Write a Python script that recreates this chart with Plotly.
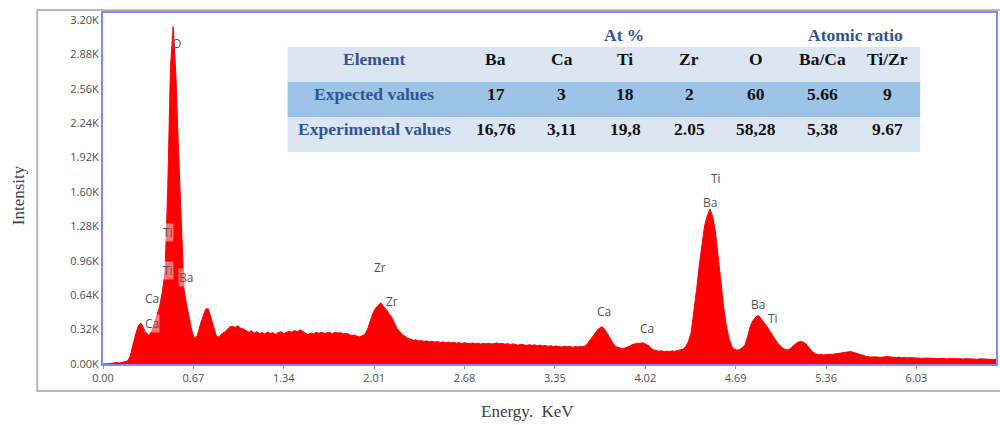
import numpy as np
import plotly.graph_objects as go

# ---- EDS spectrum: detector channels (keV) and counts per channel ----
channel_start = 0.0
channel_width = 0.02
counts = [
    0, 0, 0, 4, 10, 16, 9, 13, 18, 26,                       # 0.00
    65, 175, 268, 350, 382, 338, 292, 262, 305, 370,         # 0.20
    446, 538, 672, 860, 1640, 2760, 3140, 2700, 1980, 1290,  # 0.40
    700, 548, 428, 302, 230, 268, 362, 448, 510, 515,        # 0.60
    428, 336, 262, 248, 282, 296, 318, 345, 352, 340,        # 0.80
    355, 333, 325, 309, 296, 310, 286, 300, 284, 292,        # 1.00
    280, 298, 286, 290, 276, 294, 300, 284, 292, 305,        # 1.20
    296, 312, 300, 318, 305, 290, 272, 288, 280, 295,        # 1.40
    286, 298, 284, 290, 294, 282, 296, 288, 292, 280,        # 1.60
    286, 278, 264, 270, 258, 252, 262, 275, 318, 405,        # 1.80
    470, 518, 548, 570, 532, 508, 468, 436, 382, 330,        # 2.00
    302, 270, 258, 238, 232, 220, 226, 214, 218, 210,        # 2.20
    216, 206, 212, 204, 210, 200, 206, 198, 204, 196,        # 2.40
    202, 194, 200, 190, 198, 192, 188, 196, 190, 194,        # 2.60
    186, 192, 188, 194, 186, 190, 196, 188, 192, 184,        # 2.80
    190, 182, 188, 180, 176, 184, 178, 172, 180, 174,        # 3.00
    178, 170, 176, 168, 172, 166, 170, 162, 168, 164,        # 3.20
    158, 166, 160, 164, 156, 162, 158, 164, 160, 172,        # 3.40
    202, 232, 272, 308, 334, 346, 322, 282, 236, 192,        # 3.60
    162, 152, 146, 144, 152, 164, 178, 186, 194, 190,        # 3.80
    198, 186, 174, 150, 132, 126, 118, 124, 114, 120,        # 4.00
    116, 122, 118, 126, 130, 138, 162, 212, 292, 468,        # 4.20
    690, 918, 1120, 1288, 1382, 1440, 1372, 1228, 1002, 762, # 4.40
    542, 362, 240, 166, 140, 128, 136, 152, 182, 262,        # 4.60
    358, 408, 438, 452, 420, 392, 352, 312, 268, 236,        # 4.80
    196, 170, 146, 134, 132, 150, 176, 194, 206, 210,        # 5.00
    198, 174, 140, 112, 96, 88, 90, 84, 88, 86,              # 5.20
    90, 92, 96, 102, 108, 114, 118, 116, 110, 102,           # 5.40
    96, 86, 74, 70, 66, 68, 64, 66, 62, 66,                  # 5.60
    64, 70, 66, 62, 60, 64, 58, 62, 56, 60,                  # 5.80
    58, 54, 58, 56, 52, 56, 54, 50, 54, 52,                  # 6.00
    50, 54, 50, 48, 52, 50, 48, 52, 50, 46,                  # 6.20
    50, 48, 46, 48, 44, 48, 46, 44, 46, 44,                  # 6.40
    42, 44,                                                  # 6.60
]
energy = np.round(channel_start + channel_width * np.arange(len(counts)), 2)

# ---- axis ticks ----
x_ticks = [0.00, 0.67, 1.34, 2.01, 2.68, 3.35, 4.02, 4.69, 5.36, 6.03]
x_tick_text = ["0.00", "0.67", "1.34", "2.01", "2.68", "3.35", "4.02", "4.69", "5.36", "6.03"]
y_ticks = [0, 320, 640, 960, 1280, 1600, 1920, 2240, 2560, 2880, 3200]
y_tick_text = ["0.00K", "0.32K", "0.64K", "0.96K", "1.28K", "1.60K",
               "1.92K", "2.24K", "2.56K", "2.88K", "3.20K"]

# ---- peak identification labels (element, keV, counts, boxed) ----
peak_elements = ["O", "Ti", "Ti", "Ba", "Ca", "Ca", "Zr", "Zr", "Ca", "Ca", "Ti", "Ba", "Ba", "Ti"]
peak_energy = [0.547, 0.481, 0.481, 0.614, 0.362, 0.362, 2.056, 2.145, 3.713, 4.031, 4.541, 4.497, 4.852, 4.963]
peak_label_y = [2977, 1219, 874, 809, 605, 381, 902, 586, 484, 326, 1721, 1507, 549, 419]
peak_boxed = [False, True, True, True, False, True, False, False, False, False, False, False, False, False]

# ---- composition table ----
table_columns = ["Element", "Ba", "Ca", "Ti", "Zr", "O", "Ba/Ca", "Ti/Zr"]
expected_row = ["Expected values", "17", "3", "18", "2", "60", "5.66", "9"]
experimental_row = ["Experimental values", "16,76", "3,11", "19,8", "2.05", "58,28", "5,38", "9.67"]
table_rows = [table_columns, expected_row, experimental_row]
group_captions = ["At %", "Atomic ratio"]

# ---- page geometry (pixels) ----
W, H = 1000, 425
PLOT_L, PLOT_T, PLOT_W, PLOT_H = 103, 13, 895, 351
TABLE_L, TABLE_T, ROW_H = 288, 47, 35
column_widths = [174, 69, 64, 62.5, 66, 67.5, 66.5, 64.5]
row_fills = ["#dce6f2", "#9dc3e6", "#dce6f2"]
caption_x = [625, 857]
caption_y = 35

BLUE_TEXT = "#2f5597"
SERIF = "Liberation Serif"
SANS = "Open Sans"
AXIS_BLUE = "#8585ff"


def px(xp):
    return (xp - PLOT_L) / PLOT_W


def py(yp):
    return (PLOT_T + PLOT_H - yp) / PLOT_H


fig = go.Figure()

fig.add_trace(go.Scatter(
    x=energy, y=counts, mode="lines",
    line=dict(color="#ff0000", width=1),
    fill="tozeroy", fillcolor="#ff0000",
    hoverinfo="skip", showlegend=False,
))

annotations = []
shapes = []

# outer frame around the whole chart
shapes.append(dict(type="rect", xref="paper", yref="paper",
                   x0=px(37), x1=px(1010), y0=py(391), y1=py(10),
                   line=dict(color="#b8b8b8", width=2), fillcolor="rgba(0,0,0,0)", layer="below"))

for name, ex, ey, boxed in zip(peak_elements, peak_energy, peak_label_y, peak_boxed):
    annotations.append(dict(
        x=ex, y=ey, xref="x", yref="y", text=name, showarrow=False,
        font=dict(family=SANS, size=12, color="#555555"),
        bgcolor="rgba(255,255,255,0.45)" if boxed else "rgba(0,0,0,0)",
        borderpad=0, xanchor="center", yanchor="middle",
    ))

# composition table: row bands and cell texts
col_edges = np.concatenate([[TABLE_L], TABLE_L + np.cumsum(column_widths)])
col_centers = (col_edges[:-1] + col_edges[1:]) / 2
for r, (row, fill) in enumerate(zip(table_rows, row_fills)):
    top = TABLE_T + r * ROW_H
    shapes.append(dict(type="rect", xref="paper", yref="paper",
                       x0=px(col_edges[0]), x1=px(col_edges[-1]),
                       y0=py(top + ROW_H), y1=py(top),
                       line=dict(width=0), fillcolor=fill, layer="above"))
    for c, (value, cx) in enumerate(zip(row, col_centers)):
        annotations.append(dict(
            x=px(cx), y=py(top + 12), xref="paper", yref="paper",
            text=f"<b>{value}</b>", showarrow=False,
            font=dict(family=SERIF, size=17.5, color=BLUE_TEXT if c == 0 else "#111111"),
            xanchor="center", yanchor="middle",
        ))

for cap, cx in zip(group_captions, caption_x):
    annotations.append(dict(
        x=px(cx), y=py(caption_y), xref="paper", yref="paper",
        text=f"<b>{cap}</b>", showarrow=False,
        font=dict(family=SERIF, size=17.5, color=BLUE_TEXT), xanchor="center", yanchor="middle"))

# axis titles
annotations += [
    dict(x=px(18), y=py(195), xref="paper", yref="paper",
         text="Intensity", textangle=-90, showarrow=False,
         font=dict(family=SERIF, size=17, color="#404040"), xanchor="center", yanchor="middle"),
    dict(x=px(528), y=py(411), xref="paper", yref="paper",
         text="Energy.\u00a0 KeV", showarrow=False,
         font=dict(family=SERIF, size=17, color="#404040"), xanchor="center", yanchor="middle"),
]

fig.update_layout(
    width=W, height=H,
    margin=dict(l=PLOT_L, r=W - PLOT_L - PLOT_W, t=PLOT_T, b=H - PLOT_T - PLOT_H),
    paper_bgcolor="white", plot_bgcolor="white",
    showlegend=False,
    annotations=annotations,
    shapes=shapes,
)

fig.update_xaxes(
    range=[0, PLOT_W / 135.2], tickvals=x_ticks, ticktext=x_tick_text,
    showgrid=False, zeroline=False,
    showline=True, linecolor=AXIS_BLUE, linewidth=2, mirror=True,
    ticks="outside", ticklen=3, tickcolor="#999999",
    tickfont=dict(family=SANS, size=11, color="#505050"),
)
fig.update_yaxes(
    range=[0, PLOT_H / 0.1075], tickvals=y_ticks, ticktext=y_tick_text,
    showgrid=False, zeroline=False,
    showline=True, linecolor=AXIS_BLUE, linewidth=2, mirror=True,
    ticks="", tickfont=dict(family=SANS, size=11, color="#505050"),
)

fig.write_html("out.html")
